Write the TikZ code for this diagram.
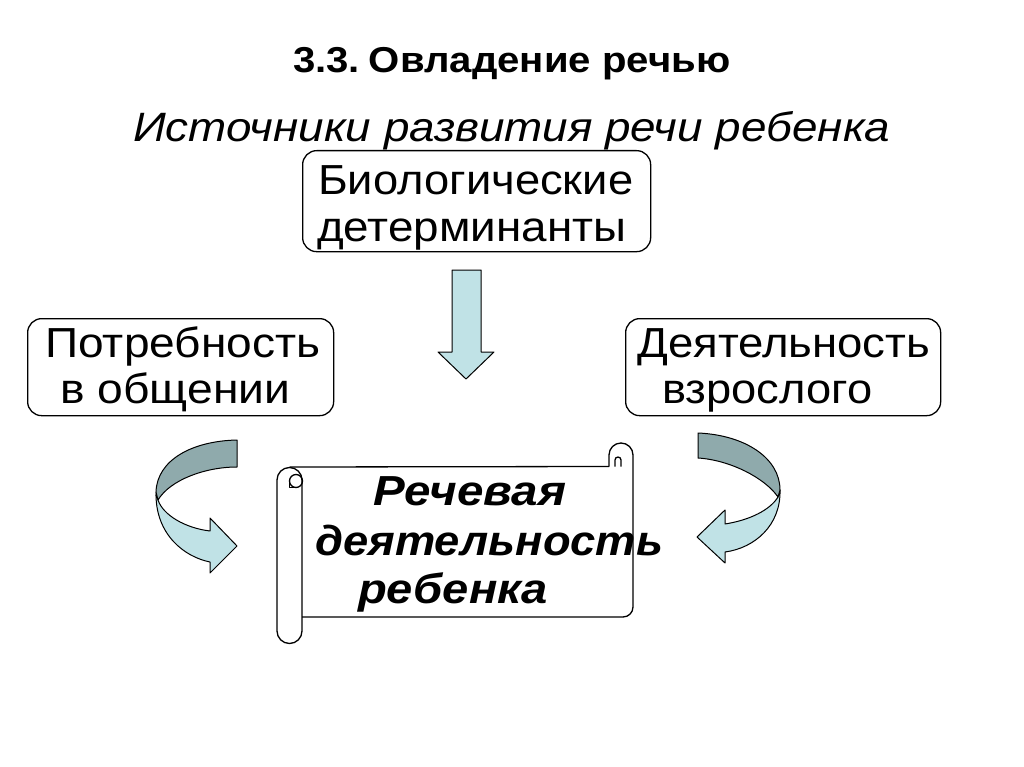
\documentclass[tikz,border=0pt]{standalone}
\usepackage{fontspec}
\setmainfont{Liberation Sans}
\usepackage{graphicx}
\definecolor{arrlight}{RGB}{192,226,230}
\definecolor{arrdark}{RGB}{143,170,172}
\newcommand\fitw[2]{\resizebox{#1pt}{\height}{#2}}
\tikzset{
  box/.style={draw=black, line width=1.3pt, rounded corners=14pt, fill=white, inner sep=0pt},
  lbl/.style={anchor=base west, inner sep=0pt},
  lightarr/.style={fill=arrlight, draw=black, line width=1pt, line join=round},
  darkarr/.style={fill=arrdark, draw=black, line width=1pt, line join=round},
  scrollline/.style={draw=black, line width=1.3pt, line join=round}
}
\begin{document}
\begin{tikzpicture}[x=1pt, y=-1pt]
\useasboundingbox[fill=white] (0,0) rectangle (1024,767);

% title and subtitle
\node[lbl] (title) at (293,73) {\fitw{437}{\bfseries\fontsize{36}{40}\selectfont 3.3.\hspace{0.22em}Овладение речью}};
\node[lbl] (sub) at (133,142) {\fitw{757}{\itshape\fontsize{41}{46}\selectfont Источники развития речи ребенка}};

% boxes
\node[box, minimum width=348pt, minimum height=101pt, anchor=north west] (bio) at (302,150) {};
\node[box, minimum width=306pt, minimum height=97pt, anchor=north west] (need) at (27,318) {};
\node[box, minimum width=315pt, minimum height=97pt, anchor=north west] (adult) at (625,318) {};

\node[lbl] (bio1) at (318,195) {\fitw{315}{\fontsize{42}{48}\selectfont Биологические}};
\node[lbl] (bio2) at (317,241) {\fitw{309}{\fontsize{42}{48}\selectfont детерминанты}};
\node[lbl] (need1) at (45,357) {\fitw{275}{\fontsize{42}{48}\selectfont Потребность}};
\node[lbl] (need2) at (60,403) {\fitw{230}{\fontsize{42}{48}\selectfont в общении}};
\node[lbl] (ad1) at (637,357) {\fitw{293}{\fontsize{42}{48}\selectfont Деятельность}};
\node[lbl] (ad2) at (662,403) {\fitw{210}{\fontsize{42}{48}\selectfont взрослого}};

% down arrow
\draw[lightarr] (452,270) -- (481,270) -- (481,352) -- (494,352) -- (466,379) -- (438,352) -- (452,352) -- cycle;

% left curved arrow
\draw[lightarr] (156,492) .. controls (155,535) and (185,557) .. (210,562) -- (210,573) -- (237,546) -- (210,518) -- (210,531) .. controls (185,528) and (163,515) .. (158,500) -- cycle;
\draw[darkarr] (237,440) .. controls (192,441) and (157,460) .. (156,492) -- (158,500) .. controls (170,480) and (205,467) .. (237,467) -- cycle;

% right curved arrow
\draw[lightarr] (780,490) .. controls (781,525) and (755,548) .. (725,552) -- (725,563) -- (697,537) -- (725,510) -- (725,524) .. controls (750,520) and (770,510) .. (778,497) -- cycle;
\draw[darkarr] (698,433) .. controls (745,435) and (780,458) .. (780,490) -- (778,497) .. controls (765,478) and (730,460) .. (698,458) -- cycle;

% scroll
\draw[scrollline] (289.5,467) -- (609,466.5);
\draw[scrollline] (609,466.5) -- (609,455) arc[start angle=180, end angle=360, radius=12] -- (633,607) arc[start angle=0, end angle=90, radius=10] -- (302,617);
\draw[scrollline] (615,466.5) -- (615,460) arc[start angle=180, end angle=360, radius=3] -- (621,466.5);
\draw[scrollline] (302,480) -- (302,631) arc[start angle=0, end angle=180, radius=12.5] -- (277,480) arc[start angle=180, end angle=360, radius=12.5];
\draw[scrollline] (296,481) circle[radius=6.5];
\draw[scrollline] (289.5,481) -- (289.5,487.5) -- (296,487.5);

\node[lbl] (sc1) at (373,505) {\fitw{193}{\bfseries\itshape\fontsize{42}{48}\selectfont Речевая}};
\node[lbl] (sc2) at (315,555) {\fitw{348}{\bfseries\itshape\fontsize{42}{48}\selectfont деятельность}};
\node[lbl] (sc3) at (358,603) {\fitw{190}{\bfseries\itshape\fontsize{42}{48}\selectfont ребенка}};
\end{tikzpicture}
\end{document}
